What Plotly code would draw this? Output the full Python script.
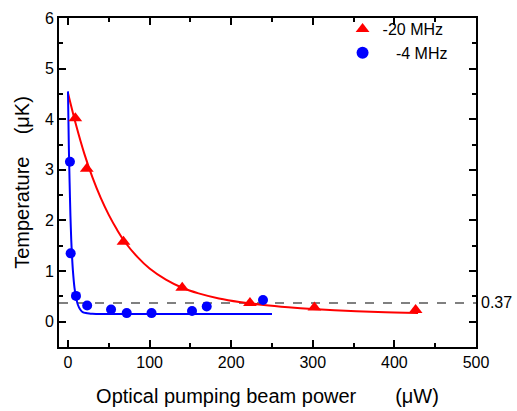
import plotly.graph_objects as go

# Measured data
red_x = [9, 23, 68, 140, 223, 302, 426]
red_y = [4.02, 3.02, 1.58, 0.67, 0.37, 0.28, 0.23]
blue_x = [2.4, 3.3, 9.8, 23.5, 52.8, 72, 102.4, 152, 170, 239]
blue_y = [3.16, 1.35, 0.51, 0.32, 0.24, 0.17, 0.17, 0.21, 0.30, 0.43]

# Fit curves
fit_red_x = [0, 10, 20, 30, 40, 50, 60, 70, 85, 100, 120, 140, 160, 185, 210, 240, 270, 300, 340, 380, 429]
fit_red_y = [4.52, 3.88, 3.32, 2.85, 2.45, 2.11, 1.82, 1.57, 1.28, 1.05, 0.83, 0.67, 0.56, 0.46, 0.39, 0.33, 0.285, 0.25, 0.215, 0.19, 0.17]
fit_blue_x = [0, 1, 2, 3, 4, 5, 6, 8, 10, 12, 15, 18, 22, 26, 30, 40, 250]
fit_blue_y = [4.55, 3.50, 2.75, 2.10, 1.62, 1.28, 1.02, 0.67, 0.47, 0.34, 0.24, 0.19, 0.17, 0.16, 0.155, 0.15, 0.15]

ref_level = 0.37
x_ticks = [0, 100, 200, 300, 400, 500]
y_ticks = [0, 1, 2, 3, 4, 5, 6]

FONT = "Arial, Liberation Sans, sans-serif"
NB = "\u00a0"

fig = go.Figure()
fig.add_trace(go.Scatter(x=fit_red_x, y=fit_red_y, mode="lines",
                         line=dict(color="#ff0000", width=2, shape="spline"),
                         showlegend=False, hoverinfo="skip"))
fig.add_trace(go.Scatter(x=fit_blue_x, y=fit_blue_y, mode="lines",
                         line=dict(color="#0000ff", width=2, shape="spline", smoothing=0.6),
                         showlegend=False, hoverinfo="skip"))
fig.add_trace(go.Scatter(x=red_x, y=red_y, mode="markers", name="-20 MHz",
                         marker=dict(symbol="triangle-up", size=12, color="#ff0000")))
fig.add_trace(go.Scatter(x=blue_x, y=blue_y, mode="markers", name=NB * 3 + "-4 MHz",
                         marker=dict(symbol="circle", size=10, color="#0000ff")))

fig.add_shape(type="line", xref="paper", x0=0, x1=1, yref="y", y0=ref_level, y1=ref_level,
              line=dict(color="#808080", width=2, dash="dash"), layer="below")
fig.add_annotation(xref="paper", x=1, yref="y", y=ref_level, text=str(ref_level),
                   showarrow=False, xanchor="left", xshift=3,
                   font=dict(family=FONT, size=16, color="black"))

axis_common = dict(showline=True, linecolor="black", linewidth=2, mirror="ticks",
                   ticks="inside", ticklen=7, tickwidth=1.5, tickcolor="black",
                   showgrid=False, zeroline=False, automargin=False,
                   tickfont=dict(family=FONT, size=16, color="black"))

fig.update_xaxes(range=[-11, 500], tickvals=x_ticks,
                 minor=dict(dtick=50, ticks="inside", ticklen=4, tickwidth=1.5, tickcolor="black"),
                 title=dict(text="Optical pumping beam power" + NB * 7 + "(μW)",
                            font=dict(family=FONT, size=20, color="black"), standoff=19),
                 **axis_common)
fig.update_yaxes(range=[-0.5, 6], tickvals=y_ticks,
                 minor=dict(dtick=0.5, ticks="inside", ticklen=4, tickwidth=1.5, tickcolor="black"),
                 title=dict(text="Temperature" + NB * 4 + "(μK)",
                            font=dict(family=FONT, size=20, color="black"), standoff=10),
                 **axis_common)

fig.update_layout(
    width=517, height=411,
    margin=dict(l=59, r=41, t=13, b=64),
    plot_bgcolor="white", paper_bgcolor="white",
    font=dict(family=FONT, size=16, color="black"),
    legend=dict(x=0.68, y=1.018, xanchor="left", yanchor="top",
                bgcolor="rgba(0,0,0,0)", font=dict(family=FONT, size=16),
                tracegroupgap=0, itemsizing="constant"),
)

fig.write_html("out.html", config={"displayModeBar": False},
               post_script="document.body.style.margin='0px';")
